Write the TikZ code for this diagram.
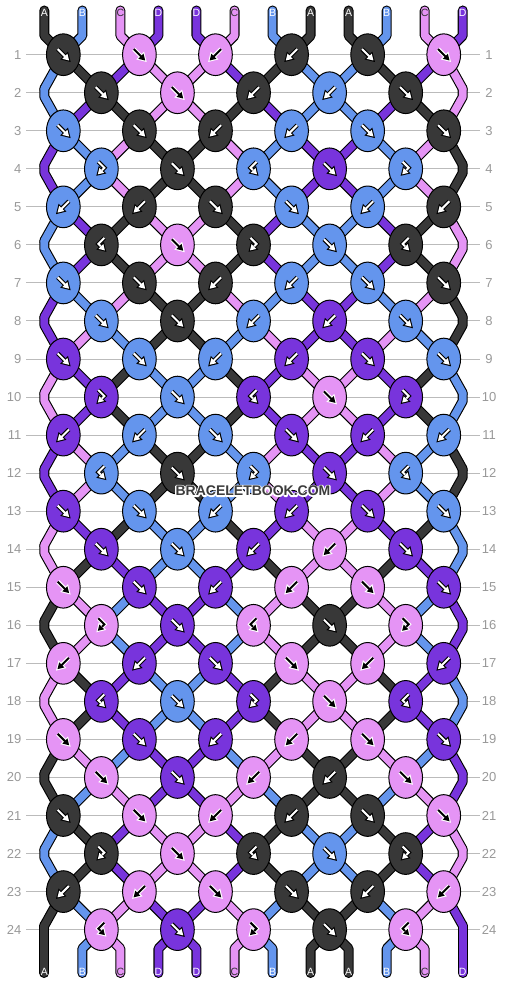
\documentclass[tikz,border=0pt]{standalone}
\usepackage{fontspec}
\setmainfont{Liberation Sans}
\usetikzlibrary{shapes.geometric}
\definecolor{colA}{HTML}{383838}
\definecolor{colB}{HTML}{6495ED}
\definecolor{colC}{HTML}{E594F5}
\definecolor{colD}{HTML}{7834DC}
\definecolor{gridgray}{HTML}{BBBBBB}
\definecolor{numgray}{HTML}{999999}
\definecolor{wmgray}{HTML}{3C3C3C}
\colorlet{fgA}{white}\colorlet{bgA}{black}
\colorlet{fgB}{white}\colorlet{bgB}{black}
\colorlet{fgC}{black}\colorlet{bgC}{white}
\colorlet{fgD}{white}\colorlet{bgD}{black}
\colorlet{labA}{white}\colorlet{labB}{white}
\definecolor{labC}{HTML}{333333}\colorlet{labD}{white}
\tikzset{
  strandout/.style={line width=10pt, draw=black, line cap=round, line join=round},
  strandin/.style={line width=7.8pt, line cap=round, line join=round},
  knotbox/.style={ellipse, draw=black, line width=1pt, minimum width=33.7pt, minimum height=41.7pt, inner sep=0pt},
  rownum/.style={text=numgray, inner sep=0pt, font=\fontsize{13}{13}\selectfont},
  strlabel/.style={inner sep=0pt, font=\fontsize{10.5}{10.5}\selectfont},
  wmark/.style={inner sep=0pt, font=\bfseries\fontsize{14}{14}\selectfont},
}
% ---------- strand segments ----------
\newcommand\seg[4]{% #1 layer, #2 row r, #3 position i, #4 letter
  \pgfmathsetmacro\pSx{44.3+38.04*#3}%
  \pgfmathsetmacro\pKs{44.3+38.04*(#3-mod(#3+#2+1,2)+0.5)}%
  \pgfmathsetmacro\pKe{44.3+38.04*(#3-mod(#3+#2,2)+0.5)}%
  \pgfmathsetmacro\pYs{54.7+38.04*(#2-1)}%
  \pgfmathsetmacro\pYe{54.7+38.04*#2}%
  \pgfmathtruncatemacro\pEdg{or(#3==0,#3==11)}%
  \pgfmathtruncatemacro\pPar{mod(#2,2)}%
  \pgfmathtruncatemacro\pSc{#2==0 ? 0 : ((\pEdg==1 && \pPar==0) ? 1 : 2)}%
  \pgfmathtruncatemacro\pEc{#2==24 ? 0 : ((\pEdg==1 && \pPar==1) ? 1 : 2)}%
  \ifcase\pSc
    \coordinate (SA) at (\pSx,10.5); \coordinate (SB) at (\pSx,35.7);
  \or
    \coordinate (SA) at (\pSx,\pYs-4); \coordinate (SB) at (\pSx,\pYs+4);
  \or
    \coordinate (SA) at (\pKs,\pYs); \coordinate (SB) at (\pKs,\pYs);
  \fi
  \ifcase\pEc
    \coordinate (EA) at (\pSx,\pYs+19); \coordinate (EB) at (\pSx,973);
  \or
    \coordinate (EA) at (\pSx,\pYe-4); \coordinate (EB) at (\pSx,\pYe-4);
  \or
    \coordinate (EA) at (\pKe,\pYe); \coordinate (EB) at (\pKe,\pYe);
  \fi
  \ifnum#1=0
    \draw[strandout] (SA) -- (SB) -- (EA) -- (EB);
  \else
    \draw[strandin, draw=col#4] (SA) -- (SB) -- (EA) -- (EB);
  \fi
}
\newcommand\segrow[3]{\foreach \cc [count=\ii from 0] in {#3} {\seg{#1}{#2}{\ii}{\cc}}}
\newcommand\allsegs[1]{%
 \segrow{#1}{0}{A,B,C,D,D,C,B,A,A,B,C,D}
 \segrow{#1}{1}{B,A,D,C,C,D,A,B,B,A,D,C}
 \segrow{#1}{2}{B,D,A,C,C,A,D,B,B,D,A,C}
 \segrow{#1}{3}{D,B,C,A,A,C,B,D,D,B,C,A}
 \segrow{#1}{4}{D,B,C,A,A,C,B,D,D,B,C,A}
 \segrow{#1}{5}{B,D,A,C,C,A,D,B,B,D,A,C}
 \segrow{#1}{6}{B,D,A,C,C,A,D,B,B,D,A,C}
 \segrow{#1}{7}{D,B,C,A,A,C,B,D,D,B,C,A}
 \segrow{#1}{8}{D,C,B,A,A,B,C,D,D,C,B,A}
 \segrow{#1}{9}{C,D,A,B,B,A,D,C,C,D,A,B}
 \segrow{#1}{10}{C,D,A,B,B,A,D,C,C,D,A,B}
 \segrow{#1}{11}{D,C,B,A,A,B,C,D,D,C,B,A}
 \segrow{#1}{12}{D,C,B,A,A,B,C,D,D,C,B,A}
 \segrow{#1}{13}{C,D,A,B,B,A,D,C,C,D,A,B}
 \segrow{#1}{14}{C,A,D,B,B,D,A,C,C,A,D,B}
 \segrow{#1}{15}{A,C,B,D,D,B,C,A,A,C,B,D}
 \segrow{#1}{16}{A,C,B,D,D,B,C,A,A,C,B,D}
 \segrow{#1}{17}{C,A,D,B,B,D,A,C,C,A,D,B}
 \segrow{#1}{18}{C,A,D,B,B,D,A,C,C,A,D,B}
 \segrow{#1}{19}{A,C,B,D,D,B,C,A,A,C,B,D}
 \segrow{#1}{20}{A,B,C,D,D,C,B,A,A,B,C,D}
 \segrow{#1}{21}{B,A,D,C,C,D,A,B,B,A,D,C}
 \segrow{#1}{22}{B,A,D,C,C,D,A,B,B,A,D,C}
 \segrow{#1}{23}{A,B,C,D,D,C,B,A,A,B,C,D}
 \segrow{#1}{24}{A,B,C,D,D,C,B,A,A,B,C,D}
}
% ---------- knot glyphs ----------
\newcommand\arrowglyph[6]{% x, y, fg, bg, body, head
  \begin{scope}[shift={(#1,#2)}]
    \draw[line width=4.2pt, draw=#4, line cap=butt, line join=miter] #5;
    \filldraw[fill=#4, draw=#4, line width=2.2pt, line join=miter] #6 -- cycle;
    \draw[line width=2pt, draw=#3, line cap=butt, line join=miter] #5;
    \fill[#3] #6 -- cycle;
  \end{scope}}
\newcommand\glyphF[4]{\arrowglyph{#1}{#2}{#3}{#4}{(-5.6,-5.6) -- (2,2)}{(5.8,5.8) -- (4.1,-1) -- (-1,4.1)}}
\newcommand\glyphB[4]{\arrowglyph{#1}{#2}{#3}{#4}{(5.6,-5.6) -- (-2,2)}{(-5.8,5.8) -- (-4.1,-1) -- (1,4.1)}}
\newcommand\glyphFB[4]{\arrowglyph{#1}{#2}{#3}{#4}{(-3,-7) -- (3,-1) -- (0.6,1.4)}{(-3.5,5.5) -- (2.8,4) -- (-2,-0.8)}}
\newcommand\glyphBF[4]{\arrowglyph{#1}{#2}{#3}{#4}{(3,-7) -- (-3,-1) -- (-0.6,1.4)}{(3.5,5.5) -- (-2.8,4) -- (2,-0.8)}}
\newcommand\knot[4]{% r, k, type, colour letter
  \pgfmathsetmacro\kx{44.3+38.04*(2*#2+0.5+(1-mod(#1,2)))}%
  \pgfmathsetmacro\ky{54.7+38.04*(#1-1)}%
  \node[knotbox, fill=col#4] (k-#1-#2) at (\kx,\ky) {};
  \csname glyph#3\endcsname{\kx}{\ky}{fg#4}{bg#4}%
}
\newcommand\knotrow[2]{\foreach \kt/\kc [count=\kk from 0] in {#2} {\knot{#1}{\kk}{\kt}{\kc}}}
\begin{document}
\begin{tikzpicture}[x=1pt,y=-1pt]
\useasboundingbox (0,0) rectangle (506,984);
\fill[white] (0,0) rectangle (506,984);
% grid lines and row numbers
\foreach \r in {1,...,24} {
  \pgfmathsetmacro\gy{54.7+38.04*(\r-1)}
  \draw[gridgray, line width=1pt] (26,\gy) -- (480,\gy);
  \node[rownum, anchor=east] (ln\r) at (21.5,\gy) {\r};
  \node[rownum] (rn\r) at (489,\gy) {\r};
}
% strands
\allsegs{0}
\allsegs{1}
% string labels
\foreach \L [count=\ii from 0] in {A,B,C,D,D,C,B,A,A,B,C,D} {
  \node[strlabel, text=lab\L] (top\ii) at (44.3+38.04*\ii,13) {\L};
}
\foreach \L [count=\ii from 0] in {A,B,C,D,D,C,B,A,A,B,C,D} {
  \node[strlabel, text=lab\L] (bot\ii) at (44.3+38.04*\ii,971.5) {\L};
}
% knots
\knotrow{1}{F/A,F/C,B/C,B/A,F/A,F/C}
\knotrow{2}{F/A,F/C,B/A,B/B,F/A}
\knotrow{3}{F/B,F/A,B/A,B/B,F/B,F/A}
\knotrow{4}{FB/B,F/A,BF/B,F/D,FB/B}
\knotrow{5}{B/B,B/A,F/A,F/B,B/B,B/A}
\knotrow{6}{BF/A,F/C,FB/A,F/B,BF/A}
\knotrow{7}{F/B,F/A,B/A,B/B,F/B,F/A}
\knotrow{8}{F/B,F/A,B/B,B/D,F/B}
\knotrow{9}{F/D,F/B,B/B,B/D,F/D,F/B}
\knotrow{10}{FB/D,F/B,BF/D,F/C,FB/D}
\knotrow{11}{B/D,B/B,F/B,F/D,B/D,B/B}
\knotrow{12}{BF/B,F/A,FB/B,F/D,BF/B}
\knotrow{13}{F/D,F/B,B/B,B/D,F/D,F/B}
\knotrow{14}{F/D,F/B,B/D,B/C,F/D}
\knotrow{15}{F/C,F/D,B/D,B/C,F/C,F/D}
\knotrow{16}{FB/C,F/D,BF/C,F/A,FB/C}
\knotrow{17}{B/C,B/D,F/D,F/C,B/C,B/D}
\knotrow{18}{BF/D,F/B,FB/D,F/C,BF/D}
\knotrow{19}{F/C,F/D,B/D,B/C,F/C,F/D}
\knotrow{20}{F/C,F/D,B/C,B/A,F/C}
\knotrow{21}{F/A,F/C,B/C,B/A,F/A,F/C}
\knotrow{22}{FB/A,F/C,BF/A,F/B,FB/A}
\knotrow{23}{B/A,B/C,F/C,F/A,B/A,B/C}
\knotrow{24}{BF/C,F/D,FB/C,F/A,BF/C}
% watermark: white stroked halo, then the dark text
\node[wmark, text=white] (wmhalo) at (253,491) {\special{pdf:code 1 Tr 2.6 w 1 j 1 J}BRACELETBOOK.COM\special{pdf:code 0 Tr}};
\node[wmark, text=wmgray] (wm) at (253,491) {BRACELETBOOK.COM};
\end{tikzpicture}
\end{document}
